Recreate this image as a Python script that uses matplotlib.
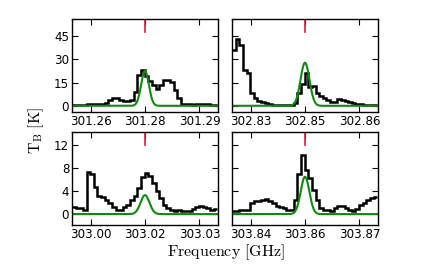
import numpy as np
import matplotlib
matplotlib.use("Agg")
import matplotlib.pyplot as plt

plt.rcParams['mathtext.fontset'] = 'cm'
plt.rcParams['font.family'] = ['DejaVu Sans']

# panel centres (GHz) = line rest frequencies (red markers)
line_freqs = [301.275, 302.845, 303.015, 303.855]
chan_width = 0.001          # GHz
half_span = 0.0201          # GHz

# observed spectra (T_B in K), channel 0 starts at line_freq - half_span
tb_tl = [0.2, 0.2, 0.3, 0.5, 1.0, 1.0, 1.1, 1.0, 1.2, 1.5,
         3.9, 5.0, 4.8, 3.5, 2.8, 2.8, 4.0, 9.0, 20.0, 23.0,
         19.0, 15.7, 13.5, 11.0, 13.5, 16.5, 16.7, 15.5, 10.0, 5.0,
         1.0, 1.0, 1.0, 0.8, 1.0, 0.9, 1.0, 1.0, 0.8, 0.8]
tb_tr = [36.0, 43.0, 39.0, 23.0, 21.0, 8.0, 5.0, 3.4, 2.2, 1.5,
         1.0, 0.6, 0.8, 0.6, 0.6, 0.5, 0.8, 2.0, 8.0, 14.0,
         21.0, 12.0, 12.5, 8.5, 6.5, 5.0, 3.8, 2.5, 2.2, 4.3,
         4.0, 3.0, 2.2, 1.8, 1.2, 1.0, 0.8, 0.6, 0.5, 0.5]
tb_bl = [1.2, 1.0, 1.0, 0.7, 7.3, 7.0, 4.8, 3.1, 2.9, 2.4,
         1.9, 1.2, 0.8, 0.8, 1.3, 1.6, 2.5, 3.2, 4.5, 6.5,
         7.2, 6.6, 5.5, 4.0, 2.8, 1.6, 1.0, 0.8, 0.6, 0.8,
         0.6, 0.6, 0.6, 0.9, 1.2, 1.4, 1.3, 1.0, 0.8, 0.9]
tb_br = [0.6, 0.6, 0.7, 0.8, 0.8, 2.0, 2.2, 2.2, 2.4, 2.6,
         2.3, 1.9, 1.4, 1.2, 1.1, 0.8, 0.7, 2.4, 7.0, 10.3,
         7.7, 6.3, 4.2, 2.4, 1.0, 0.8, 0.7, 0.6, 1.1, 1.4,
         1.4, 1.1, 0.8, 0.6, 0.9, 1.6, 2.0, 2.4, 2.8, 3.0]
spectra = [tb_tl, tb_tr, tb_bl, tb_br]

# Gaussian model lines (green): peak T_B [K], FWHM [GHz]
model_peak = [22.5, 27.8, 3.3, 6.5]
model_fwhm = [0.0025, 0.0029, 0.0029, 0.0028]

# tick labels
xtick_vals = [[301.26, 301.275, 301.29], [302.83, 302.845, 302.86],
              [303.00, 303.015, 303.03], [303.84, 303.855, 303.87]]
xtick_labels = [["301.26", "301.28", "301.29"], ["302.83", "302.85", "302.86"],
                ["303.00", "303.02", "303.03"], ["303.84", "303.86", "303.87"]]
ytick_rows = [[0, 15, 30, 45], [0, 4, 8, 12]]
ylims = [(-4, 56), (-1.9, 14.3)]

W, H = 437, 273
fig = plt.figure(figsize=(W / 100, H / 100), dpi=100)
pw, ph = 146, 93
lefts = [72, 232]
tops = [19, 132]

for k in range(4):
    r, c = divmod(k, 2)
    ax = fig.add_axes([lefts[c] / W, 1 - (tops[r] + ph) / H, pw / W, ph / H])
    f0 = line_freqs[k]
    vals = np.array(spectra[k])
    edges = f0 - half_span + chan_width * np.arange(len(vals) + 1)
    ax.stairs(vals, edges, baseline=None, color='black', lw=1.8)
    fgrid = np.linspace(f0 - half_span, f0 + half_span, 600)
    sig = model_fwhm[k] / 2.3548
    ax.plot(fgrid, model_peak[k] * np.exp(-0.5 * ((fgrid - f0) / sig) ** 2),
            color='#118811', lw=1.5)
    ax.axvline(f0, ymin=0.86, ymax=1.0, color='#e0143c', lw=1.2)
    ax.set_xlim(f0 - half_span, f0 + half_span)
    ax.set_ylim(*ylims[r])
    ax.set_xticks(xtick_vals[k])
    ax.set_xticklabels(xtick_labels[k])
    ax.set_yticks(ytick_rows[r])
    if c == 1:
        ax.set_yticklabels([])
    ax.tick_params(direction='in', length=4, width=0.8, top=True, right=True,
                   labelsize=8.6, pad=2, colors='black')
    for s in ax.spines.values():
        s.set_linewidth(1.0)

fig.text(226 / W, 1 - 252 / H, r'$\mathrm{Frequency\ [GHz]}$',
         ha='center', va='center', fontsize=11.5)
fig.text(36 / W, 1 - 130 / H, r'$\mathrm{T_B\ [K]}$', ha='center', va='center',
         fontsize=11.5, rotation=90)

fig.savefig('out.png', dpi=100)
